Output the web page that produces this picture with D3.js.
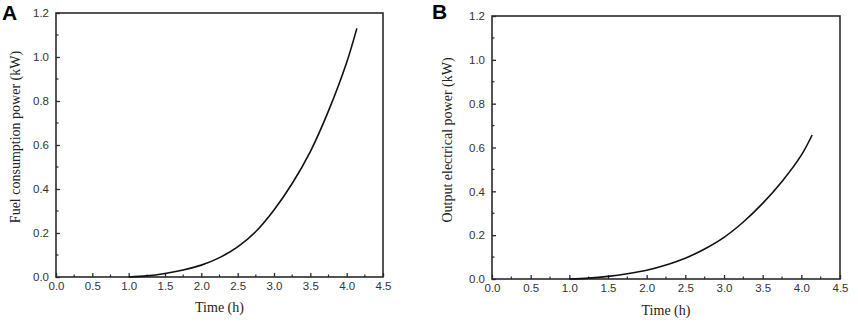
<!DOCTYPE html>
<html lang="en">
<head>
  <title>Fuel and output power</title>
  <script src="https://cdn.jsdelivr.net/npm/d3@7"></script>
  <style>
    body { margin: 0; background: #fff; }
  </style>
</head>
<body>
  <script>
    // data
    let timeH = [1.0, 1.25, 1.5, 1.75, 2.0, 2.25, 2.5, 2.75, 3.0, 3.25, 3.5, 3.75, 4.0, 4.14];
    let fuelPower = [0, 0.005, 0.016, 0.032, 0.054, 0.088, 0.137, 0.207, 0.305, 0.425, 0.57, 0.755, 0.975, 1.13];
    let outputPower = [0, 0.004, 0.012, 0.024, 0.04, 0.064, 0.095, 0.137, 0.19, 0.26, 0.345, 0.445, 0.565, 0.657];
    let xTicks = [0, 0.5, 1.0, 1.5, 2.0, 2.5, 3.0, 3.5, 4.0, 4.5];
    let yTicks = [0, 0.2, 0.4, 0.6, 0.8, 1.0, 1.2];

    let svg = d3.select("body").append("svg")
      .attr("width", 858)
      .attr("height", 325);

    let panels = [
      { tag: "A", tagX: 2, tagY: 20, left: 56, right: 383, top: 13, bottom: 277,
        yLabel: "Fuel consumption power (kW)", yLabelX: 17, yLabelY: 137,
        xLabelY: 312, values: fuelPower },
      { tag: "B", tagX: 432, tagY: 19, left: 492, right: 840, top: 16, bottom: 279,
        yLabel: "Output electrical power (kW)", yLabelX: 449, yLabelY: 140,
        xLabelY: 315, values: outputPower }
    ];

    panels.forEach(drawPanel);

    function drawPanel(p) {
      let x = d3.scaleLinear().domain([0, 4.5]).range([p.left, p.right]);
      let y = d3.scaleLinear().domain([0, 1.2]).range([p.bottom, p.top]);
      let axisColor = "#2a2a2a";

      // minor ticks (inside the frame)
      let xMinor = d3.range(0.25, 4.5, 0.5);
      let yMinor = d3.range(0.1, 1.2, 0.2);
      let g = svg.append("g");
      g.selectAll(".xminor").data(xMinor).join("line")
        .attr("x1", d => x(d)).attr("x2", d => x(d))
        .attr("y1", p.bottom).attr("y2", p.bottom - 2.5)
        .attr("stroke", axisColor).attr("stroke-width", 1.2);
      g.selectAll(".yminor").data(yMinor).join("line")
        .attr("x1", p.left).attr("x2", p.left + 2.5)
        .attr("y1", d => y(d)).attr("y2", d => y(d))
        .attr("stroke", axisColor).attr("stroke-width", 1.2);

      // x axis with inward ticks
      let xAxisG = svg.append("g")
        .attr("transform", `translate(0, ${p.bottom})`)
        .call(d3.axisBottom(x).tickValues(xTicks).tickFormat(d3.format(".1f"))
          .tickSizeInner(-4).tickSizeOuter(0).tickPadding(5));
      // y axis with inward ticks
      let yAxisG = svg.append("g")
        .attr("transform", `translate(${p.left}, 0)`)
        .call(d3.axisLeft(y).tickValues(yTicks).tickFormat(d3.format(".1f"))
          .tickSizeInner(-4).tickSizeOuter(0).tickPadding(7));
      [xAxisG, yAxisG].forEach(a => {
        a.select(".domain").remove();
        a.selectAll("line").attr("stroke", axisColor).attr("stroke-width", 1.3);
        a.selectAll("text")
          .attr("fill", "#333")
          .style("font-family", "'Liberation Sans', Arial, sans-serif")
          .style("font-size", "11.5px");
      });

      // frame
      svg.append("rect")
        .attr("x", p.left).attr("y", p.top)
        .attr("width", p.right - p.left).attr("height", p.bottom - p.top)
        .attr("fill", "none")
        .attr("stroke", axisColor)
        .attr("stroke-width", 1.6);

      // curve
      let line = d3.line()
        .x((d, i) => x(timeH[i]))
        .y(d => y(d))
        .curve(d3.curveCatmullRom);
      svg.append("path")
        .datum(p.values)
        .attr("d", line)
        .attr("fill", "none")
        .attr("stroke", "#111")
        .attr("stroke-width", 1.6);

      // labels
      svg.append("text").text("Time (h)")
        .attr("x", (p.left + p.right) / 2).attr("y", p.xLabelY)
        .attr("text-anchor", "middle")
        .attr("fill", "#222")
        .style("font-family", "'Liberation Serif', 'Times New Roman', serif")
        .style("font-size", "14px");
      svg.append("text").text(p.yLabel)
        .attr("transform", `translate(${p.yLabelX}, ${p.yLabelY}) rotate(-90)`)
        .attr("text-anchor", "middle")
        .attr("dominant-baseline", "middle")
        .attr("fill", "#222")
        .style("font-family", "'Liberation Serif', 'Times New Roman', serif")
        .style("font-size", "14px");
      svg.append("text").text(p.tag)
        .attr("x", p.tagX).attr("y", p.tagY)
        .attr("fill", "#000")
        .style("font-family", "'Liberation Sans', Arial, sans-serif")
        .style("font-weight", "bold")
        .style("font-size", "21px");
    }
  </script>
</body>
</html>
